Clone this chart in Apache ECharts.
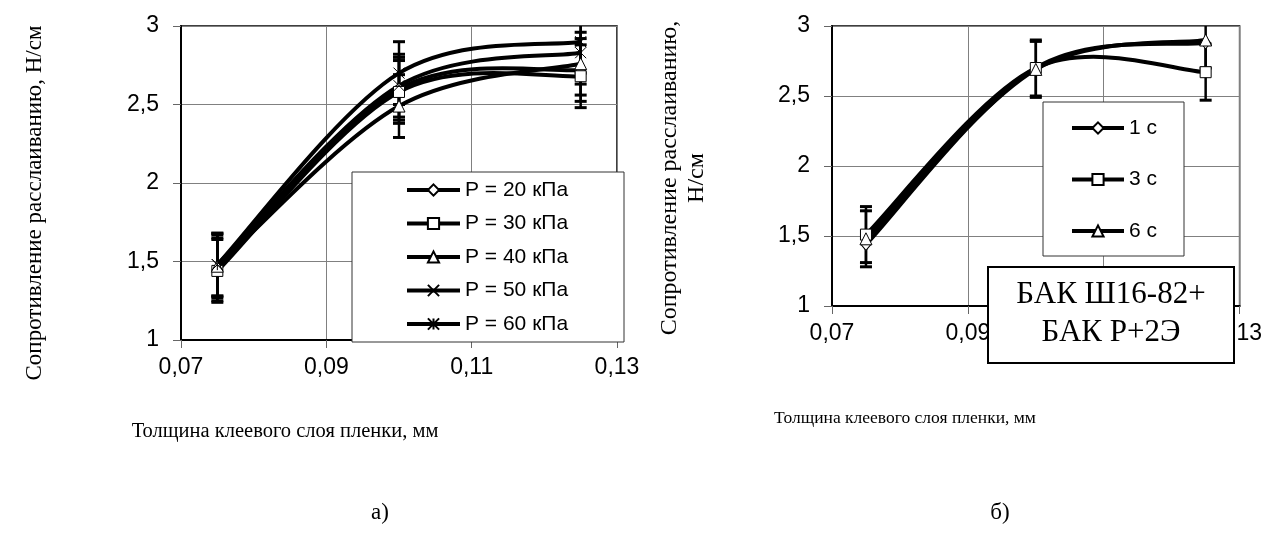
<!DOCTYPE html>
<html>
<head>
  <meta charset="utf-8">
  <script src="https://cdn.jsdelivr.net/npm/echarts@6/dist/echarts.min.js"></script>
  <style>
    body { margin: 0; background: #fff; }
    #main { width: 1265px; height: 544px; }
  </style>
</head>
<body>
<div id="main"></div>
<script>
  // x positions: adhesive layer thickness, mm
  const thickness = [0.075, 0.1, 0.125];

  // chart a) pressure series
  const namesA = ['P = 20 кПа', 'P = 30 кПа', 'P = 40 кПа', 'P = 50 кПа', 'P = 60 кПа'];
  const p20 = [1.45, 2.60, 2.72];
  const p30 = [1.44, 2.58, 2.68];
  const p40 = [1.47, 2.49, 2.76];
  const p50 = [1.48, 2.62, 2.83];
  const p60 = [1.48, 2.70, 2.90];
  const errP20 = [0.2, 0.2, 0.2];
  const errP30 = [0.2, 0.2, 0.2];
  const errP40 = [0.2, 0.2, 0.2];
  const errP50 = [0.2, 0.2, 0.2];
  const errP60 = [0.2, 0.2, 0.2];

  // chart б) time series
  const namesB = ['1 с', '3 с', '6 с'];
  const t1 = [1.44, 2.70, 2.88];
  const t3 = [1.51, 2.70, 2.67];
  const t6 = [1.48, 2.69, 2.90];
  const errT1 = [0, 0, 0];
  const errT3 = [0.2, 0.2, 0.2];
  const errT6 = [0.2, 0.2, 0.2];

  const xTicks = { min: 0.07, max: 0.13, step: 0.02 };
  const yTicks = { min: 1, max: 3, step: 0.5 };

  const SANS = 'Liberation Sans';
  const SERIF = 'Liberation Serif';
  const xSymbol = 'path://M0,0L10,10M10,0L0,10';
  const starSymbol = 'path://M0,0L10,10M10,0L0,10M5,0L5,10';

  // markers only (the curve itself is drawn by curveSeries), also feeds the legend
  function markSeries(name, vals, symbol, size, idx) {
    return {
      name: name, type: 'line', xAxisIndex: idx, yAxisIndex: idx,
      data: thickness.map((x, i) => [x, vals[i]]),
      symbol: symbol, symbolSize: size,
      lineStyle: { color: '#000', width: 4, opacity: 0 },
      itemStyle: { color: '#fff', borderColor: '#000', borderWidth: 1 },
      z: 4, animation: false
    };
  }

  // Excel-like smoothed line (Catmull-Rom through the points, via axis coords)
  function curveSeries(vals, idx) {
    return {
      type: 'custom', xAxisIndex: idx, yAxisIndex: idx, silent: true, z: 3,
      data: [[thickness[0], vals[0]]],
      renderItem: function (params, api) {
        const p = thickness.map((x, i) => api.coord([x, vals[i]]));
        const n = p.length;
        let d = 'M' + p[0][0] + ',' + p[0][1];
        for (let i = 0; i < n - 1; i++) {
          const a = p[Math.max(i - 1, 0)], b = p[i], c = p[i + 1], e = p[Math.min(i + 2, n - 1)];
          const c1x = b[0] + (c[0] - a[0]) / 6, c1y = b[1] + (c[1] - a[1]) / 6;
          const c2x = c[0] - (e[0] - b[0]) / 6, c2y = c[1] - (e[1] - b[1]) / 6;
          d += 'C' + c1x + ',' + c1y + ',' + c2x + ',' + c2y + ',' + c[0] + ',' + c[1];
        }
        return { type: 'path', shape: { pathData: d },
          style: { fill: 'none', stroke: '#000', lineWidth: 4, lineJoin: 'round' } };
      },
      animation: false
    };
  }

  function errSeries(vals, errs, idx) {
    return {
      type: 'custom', xAxisIndex: idx, yAxisIndex: idx, silent: true, z: 2,
      data: thickness.map((x, i) => [x, vals[i], errs[i]]),
      renderItem: function (params, api) {
        const x = api.value(0), y = api.value(1), e = api.value(2);
        if (!e) return;
        const hiV = y + e, loV = y - e;
        const top = api.coord([x, Math.min(hiV, yTicks.max)]);
        const bot = api.coord([x, Math.max(loV, yTicks.min)]);
        const cap = { stroke: '#000', lineWidth: 3 };
        const kids = [{ type: 'line', shape: { x1: top[0], y1: top[1], x2: bot[0], y2: bot[1] },
          style: { stroke: '#000', lineWidth: 2.5 } }];
        if (hiV <= yTicks.max) kids.push({ type: 'line', shape: { x1: top[0] - 6, y1: top[1], x2: top[0] + 6, y2: top[1] }, style: cap });
        if (loV >= yTicks.min) kids.push({ type: 'line', shape: { x1: bot[0] - 6, y1: bot[1], x2: bot[0] + 6, y2: bot[1] }, style: cap });
        return { type: 'group', children: kids };
      },
      animation: false
    };
  }

  function xAxis(idx) {
    return {
      type: 'value', gridIndex: idx, min: xTicks.min, max: xTicks.max, interval: xTicks.step,
      axisLine: { show: true, lineStyle: { color: '#000', width: 2 } },
      axisTick: { show: true, length: 8, lineStyle: { color: '#666' } },
      axisLabel: { margin: 16, fontFamily: SANS, fontSize: 23, color: '#000',
        formatter: v => v.toFixed(2).replace('.', ',') },
      splitLine: { show: true, lineStyle: { color: '#808080', width: 1 } }
    };
  }
  function yAxis(idx) {
    return {
      type: 'value', gridIndex: idx, min: yTicks.min, max: yTicks.max, interval: yTicks.step,
      axisLine: { show: true, lineStyle: { color: '#000', width: 2 } },
      axisTick: { show: true, length: 8, lineStyle: { color: '#666' } },
      axisLabel: { margin: 22, fontFamily: SANS, fontSize: 23, color: '#000',
        formatter: v => String(v).replace('.', ',') },
      splitLine: { show: true, lineStyle: { color: '#808080', width: 1 } }
    };
  }

  const legendText = { fontFamily: SANS, fontSize: 21, color: '#000', lineHeight: 22 };
  const legendLine = { color: '#000', width: 4, opacity: 1 };

  const chart = echarts.init(document.getElementById('main'));
  chart.setOption({
    animation: false,
    backgroundColor: '#fff',
    grid: [
      { left: 181, top: 26, width: 436, height: 314, show: true, borderColor: '#000', borderWidth: 1.5 },
      { left: 832, top: 26, width: 408, height: 280, show: true, borderColor: '#000', borderWidth: 1.5 }
    ],
    xAxis: [xAxis(0), xAxis(1)],
    yAxis: [yAxis(0), yAxis(1)],
    legend: [
      { data: namesA, orient: 'vertical', left: 405, top: 179, padding: 0, itemWidth: 53, itemHeight: 14,
        itemGap: 11.5, textStyle: legendText, lineStyle: legendLine, selectedMode: false, z: 6 },
      { data: namesB, orient: 'vertical', left: 1070, top: 117, padding: 0, itemWidth: 52, itemHeight: 14,
        itemGap: 29.5, textStyle: legendText, lineStyle: legendLine, selectedMode: false, z: 6 }
    ],
    series: [
      errSeries(p20, errP20, 0), errSeries(p30, errP30, 0), errSeries(p40, errP40, 0),
      errSeries(p50, errP50, 0), errSeries(p60, errP60, 0),
      curveSeries(p20, 0), curveSeries(p30, 0), curveSeries(p40, 0), curveSeries(p50, 0), curveSeries(p60, 0),
      markSeries(namesA[0], p20, 'diamond', [10, 12], 0),
      markSeries(namesA[1], p30, 'rect', 11, 0),
      markSeries(namesA[2], p40, 'triangle', 12, 0),
      markSeries(namesA[3], p50, xSymbol, 11, 0),
      markSeries(namesA[4], p60, starSymbol, 11, 0),
      errSeries(t1, errT1, 1), errSeries(t3, errT3, 1), errSeries(t6, errT6, 1),
      curveSeries(t1, 1), curveSeries(t3, 1), curveSeries(t6, 1),
      markSeries(namesB[0], t1, 'diamond', [10, 12], 1),
      markSeries(namesB[1], t3, 'rect', 11, 1),
      markSeries(namesB[2], t6, 'triangle', 12, 1)
    ],
    graphic: [
      { type: 'rect', z: 5, shape: { x: 352, y: 172, width: 272, height: 170 },
        style: { fill: '#fff', stroke: '#333', lineWidth: 1 } },
      { type: 'rect', z: 5, shape: { x: 1043, y: 102, width: 141, height: 154 },
        style: { fill: '#fff', stroke: '#333', lineWidth: 1 } },
      { type: 'rect', z: 10, shape: { x: 988, y: 267, width: 246, height: 96 },
        style: { fill: '#fff', stroke: '#000', lineWidth: 2 } },
      { type: 'text', z: 11, x: 1111, y: 314,
        style: { text: 'БАК Ш16-82+\nБАК Р+2Э', fontFamily: SERIF, fontSize: 31, lineHeight: 38,
          fill: '#000', align: 'center', verticalAlign: 'middle' } },
      { type: 'text', x: 35, y: 203, rotation: Math.PI / 2,
        style: { text: 'Сопротивление расслаиванию, Н/см', fontFamily: SERIF, fontSize: 23,
          fill: '#000', align: 'center', verticalAlign: 'middle' } },
      { type: 'text', x: 683, y: 178, rotation: Math.PI / 2,
        style: { text: 'Сопротивление расслаиванию,\nН/см', fontFamily: SERIF, fontSize: 24, lineHeight: 27,
          fill: '#000', align: 'center', verticalAlign: 'middle' } },
      { type: 'text', x: 285, y: 432,
        style: { text: 'Толщина клеевого слоя пленки, мм', fontFamily: SERIF, fontSize: 20.5,
          fill: '#000', align: 'center', verticalAlign: 'middle' } },
      { type: 'text', x: 905, y: 418,
        style: { text: 'Толщина клеевого слоя пленки, мм', fontFamily: SERIF, fontSize: 17.5,
          fill: '#000', align: 'center', verticalAlign: 'middle' } },
      { type: 'text', x: 380, y: 513,
        style: { text: 'а)', fontFamily: SERIF, fontSize: 23, fill: '#000', align: 'center', verticalAlign: 'middle' } },
      { type: 'text', x: 1000, y: 513,
        style: { text: 'б)', fontFamily: SERIF, fontSize: 23, fill: '#000', align: 'center', verticalAlign: 'middle' } }
    ]
  });
</script>
</body>
</html>
